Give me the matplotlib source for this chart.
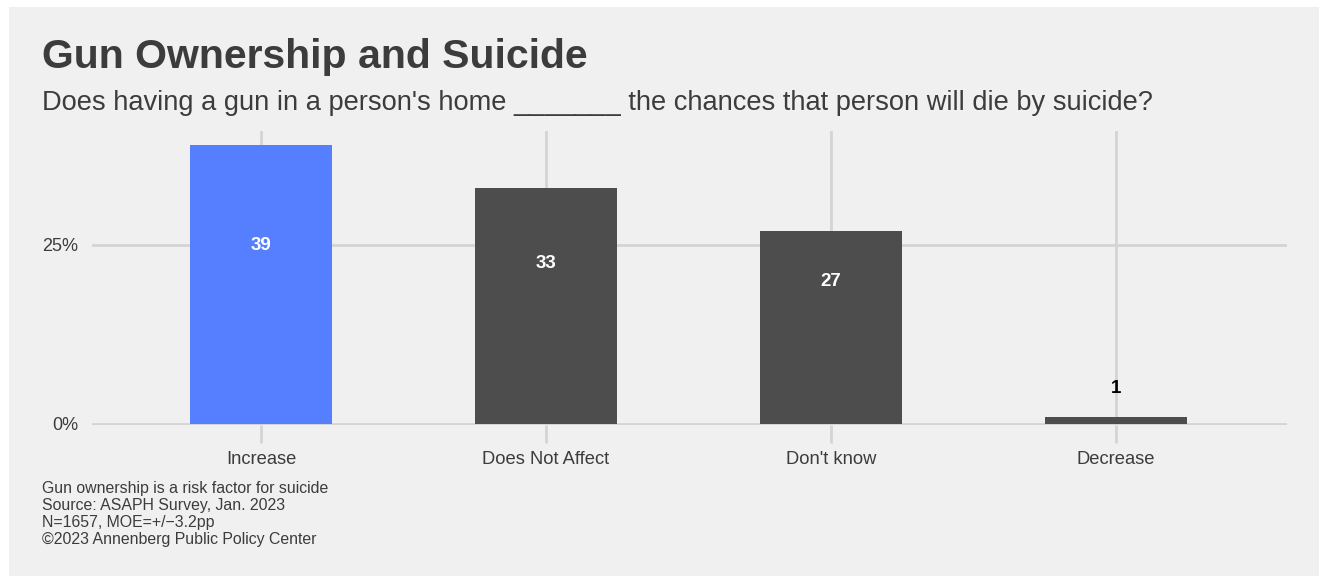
import matplotlib.pyplot as plt
from matplotlib.patches import Rectangle

categories = ["Increase", "Does Not Affect", "Don't know", "Decrease"]
values = [39, 33, 27, 1]
bar_colors = ["#557fff", "#4d4d4d", "#4d4d4d", "#4d4d4d"]
yticks = [0, 25]
ytick_labels = ["0%", "25%"]
caption = ["Gun ownership is a risk factor for suicide",
           "Source: ASAPH Survey, Jan. 2023",
           "N=1657, MOE=+/\u22123.2pp",
           "\u00a92023 Annenberg Public Policy Center"]

plt.rcParams['font.family'] = ['Liberation Sans', 'DejaVu Sans']
bg = "#f0f0f0"
grid = "#d4d4d4"
txt = "#3c3c3c"

W, H = 1319, 576
fig = plt.figure(figsize=(W / 100, H / 100), dpi=100)
fig.patch.set_facecolor("white")
fig.add_artist(Rectangle((9 / W, 0), 1 - 9 / W, 1 - 7 / H, transform=fig.transFigure,
                         facecolor=bg, edgecolor="none", zorder=-10))

ax = fig.add_axes([92 / W, (H - 425) / H, (1287 - 92) / W, (425 - 131) / H])
ax.set_facecolor(bg)
x = range(len(categories))
ax.bar(x, values, width=0.5, color=bar_colors, zorder=3)
ax.set_xlim(-0.593, 3.6)
ax.set_ylim(-0.15, 40.9)

for s in ax.spines.values():
    s.set_visible(False)
ax.set_yticks(yticks)
ax.set_yticklabels(ytick_labels)
ax.set_xticks(list(x))
ax.set_xticklabels(categories)
ax.grid(True, color=grid, linewidth=2, zorder=0)
ax.tick_params(axis="y", length=0, pad=10, labelsize=13, labelcolor=txt)
ax.tick_params(axis="x", length=13, width=2, color=grid, pad=6, labelsize=13.2, labelcolor=txt)

# value labels: inside the bar in white, above it in black for small values
for i, v in enumerate(values):
    if v > 5:
        ax.text(i, v * 0.42 + 8.6, str(v), ha="center", va="center",
                color="white", fontsize=13.5, fontweight="bold", zorder=4)
    else:
        ax.text(i, v + 3.9, str(v), ha="center", va="center",
                color="black", fontsize=13.5, fontweight="bold", zorder=4)

fig.text(42 / W, 1 - 57 / H, "Gun Ownership and Suicide", fontsize=29.5,
         fontweight="bold", color=txt, va="center", ha="left")
fig.text(42 / W, 1 - 103 / H,
         "Does having a gun in a person's home _______ the chances that person will die by suicide?",
         fontsize=19.6, color=txt, va="center", ha="left")
for k, line in enumerate(caption):
    fig.text(42 / W, 1 - (488 + k * 17.3) / H, line, fontsize=11.4, color=txt,
             va="center", ha="left")

fig.savefig("out.png", dpi=100, facecolor=fig.get_facecolor())
